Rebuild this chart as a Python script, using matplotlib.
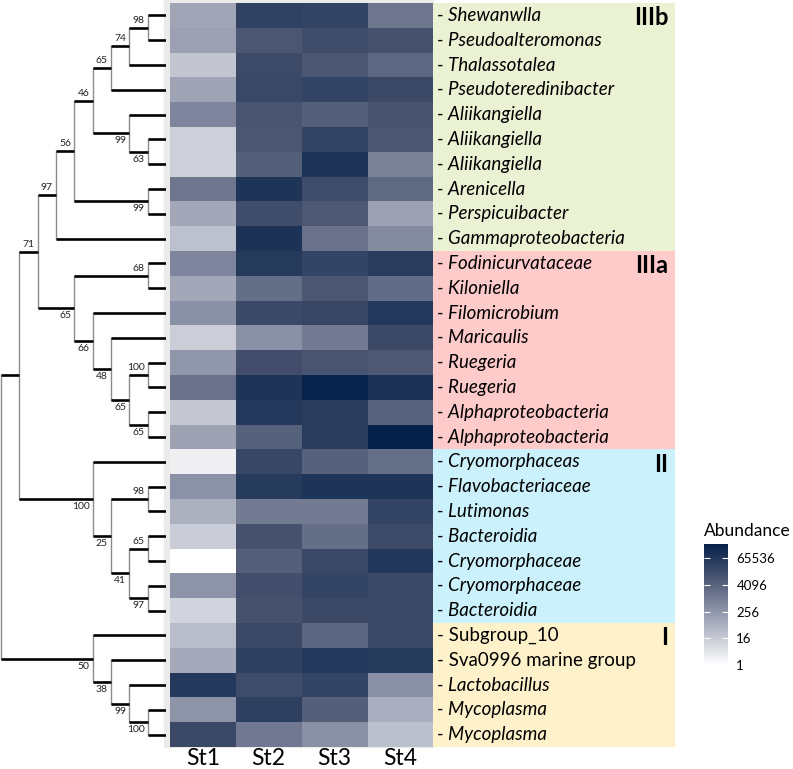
import matplotlib
matplotlib.use("Agg")
import matplotlib.pyplot as plt
import numpy as np
from matplotlib.colors import LinearSegmentedColormap, Normalize
from matplotlib.patches import Rectangle
import matplotlib.cm as cm

plt.rcParams['font.family'] = ['Lato', 'DejaVu Sans']

# taxa (top to bottom)
taxa = ['Shewanwlla', 'Pseudoalteromonas', 'Thalassotalea', 'Pseudoteredinibacter',
        'Aliikangiella', 'Aliikangiella', 'Aliikangiella', 'Arenicella', 'Perspicuibacter',
        'Gammaproteobacteria', 'Fodinicurvataceae', 'Kiloniella', 'Filomicrobium',
        'Maricaulis', 'Ruegeria', 'Ruegeria', 'Alphaproteobacteria', 'Alphaproteobacteria',
        'Cryomorphaceas', 'Flavobacteriaceae', 'Lutimonas', 'Bacteroidia', 'Cryomorphaceae',
        'Cryomorphaceae', 'Bacteroidia', 'Subgroup_10', 'Sva0996 marine group',
        'Lactobacillus', 'Mycoplasma', 'Mycoplasma']
not_italic = ['Subgroup_10', 'Sva0996 marine group']
stations = ['St1', 'St2', 'St3', 'St4']

# log2 abundance per station
st1 = [6.8, 7.2, 4.3, 6.9, 9.2, 3.6, 3.6, 10.4, 6.6, 4.7,
       9.2, 6.6, 8.4, 3.7, 7.9, 10.8, 4.2, 7.0,
       1.2, 8.3, 5.9, 3.8, 0.0, 8.1, 3.2,
       5.0, 6.5, 15.7, 8.1, 14.1]
st2 = [14.9, 13.0, 14.0, 14.2, 13.1, 13.0, 12.3, 16.1, 13.8, 16.3,
       15.6, 11.1, 14.1, 8.4, 13.7, 16.1, 15.7, 12.1,
       14.3, 15.6, 10.0, 13.4, 12.3, 13.6, 13.4,
       14.1, 15.0, 13.9, 15.0, 10.2]
st3 = [14.6, 13.8, 12.9, 14.6, 12.3, 14.7, 16.1, 13.9, 12.8, 10.7,
       14.6, 13.0, 14.4, 10.0, 13.1, 17.7, 15.4, 15.4,
       12.1, 16.1, 10.0, 11.1, 14.1, 14.6, 14.1,
       11.8, 15.7, 14.6, 12.3, 8.4]
st4 = [10.4, 13.4, 11.6, 14.1, 13.2, 13.0, 9.5, 11.5, 7.1, 8.8,
       15.4, 11.2, 15.8, 14.1, 12.7, 16.4, 12.0, 18.1,
       11.0, 16.1, 14.6, 14.0, 15.9, 14.1, 14.1,
       14.1, 15.6, 8.4, 6.2, 4.8]

groups = ['IIIb', 'IIIa', 'II', 'I']
group_start = [0, 10, 18, 25]
group_end = [10, 18, 25, 30]
group_colors = ['#EBF1D3', '#FFCACA', '#CBF2FC', '#FFF2CB']

cb_ticks = [0, 4, 8, 12, 16]
cb_labels = ['1', '16', '256', '4096', '65536']


# tree: (upper, lower, bootstrap)
def nd(a, b, s=None):
    return (a, b, s)

A = nd(0, 1, 98); B = nd(A, 2, 74); C = nd(B, 3, 65)
D = nd(5, 6, 63); E = nd(4, D, 99); F = nd(C, E, 46)
G = nd(7, 8, 99); H = nd(F, G, 56); I3b = nd(H, 9, 97)
J = nd(10, 11, 68); K = nd(14, 15, 100); L = nd(16, 17, 65)
M = nd(K, L, 65); N = nd(13, M, 48); O = nd(12, N, 66); P = nd(J, O, 65)
Q = nd(I3b, P, 71)
R = nd(19, 20, 98); S = nd(21, 22, 65); T = nd(23, 24, 97)
U = nd(S, T, 41); V = nd(R, U, 25); W = nd(18, V, 100)
X = nd(Q, W)
Y = nd(28, 29, 100); Z = nd(27, Y, 99); AA = nd(26, Z, 38); AB = nd(25, AA, 50)
root = nd(X, AB)

W_PX, H_PX = 793, 769
fig = plt.figure(figsize=(W_PX / 100, H_PX / 100), dpi=100)


def fx(px):
    return px / W_PX


def fy(px):
    return 1 - px / H_PX


top, bot = 3, 747
n = len(taxa)

# panel background strip
fig.patches.append(Rectangle((fx(164), fy(bot)), fx(433 - 164), bot / H_PX,
                             transform=fig.transFigure, color='#EBEBEB', zorder=-5))

# dendrogram
ax_t = fig.add_axes([0, fy(bot), fx(166), (bot - top) / H_PX])
ax_t.set_xlim(-0.06, 9.0)
ax_t.set_ylim(n - 0.5, -0.5)
ax_t.axis('off')
MAXH = 9


def draw(t):
    if isinstance(t, int):
        return t, 0
    a, b, s = t
    ya, ha = draw(a)
    yb, hb = draw(b)
    h = 1 + max(ha, hb)
    x = MAXH - h
    ax_t.plot([x, x], [ya, yb], color='#8C8C8C', lw=1.0, zorder=1)
    for k, (c, yc, hc) in enumerate([(a, ya, ha), (b, yb, hb)]):
        xc = MAXH - hc
        ax_t.plot([x, xc], [yc, yc], color='black', lw=1.9, zorder=2,
                  solid_capstyle='butt')
        if not isinstance(c, int) and c[2] is not None:
            if k == 0:
                ax_t.text(xc - 0.17, yc - 0.12, str(c[2]), ha='right', va='bottom',
                          fontsize=7.5, color='#222222')
            else:
                ax_t.text(xc - 0.17, yc + 0.12, str(c[2]), ha='right', va='top',
                          fontsize=7.5, color='#222222')
    return (ya + yb) / 2, h


draw(root)

# heatmap
cmap = LinearSegmentedColormap.from_list(
    'abund', [(0, '#FFFFFF'), (0.25, '#C0C3CF'), (0.5, '#81889E'),
              (0.75, '#434F6C'), (1.0, '#04214A')])
norm = Normalize(vmin=0, vmax=18.1)
vals = np.array([st1, st2, st3, st4]).T

ax_h = fig.add_axes([fx(170), fy(bot), fx(433 - 170), (bot - top) / H_PX])
ax_h.imshow(vals, cmap=cmap, norm=norm, aspect='auto', interpolation='nearest')
ax_h.set_xticks(range(len(stations)))
ax_h.set_xticklabels(stations, fontsize=16.5)
ax_h.set_yticks([])
ax_h.tick_params(axis='x', length=0, pad=1)
for sp in ax_h.spines.values():
    sp.set_visible(False)

# labels with group bands
ax_l = fig.add_axes([fx(433), fy(bot), fx(675 - 433), (bot - top) / H_PX])
ax_l.set_xlim(0, 1)
ax_l.set_ylim(n - 0.5, -0.5)
ax_l.axis('off')
for g, s0, s1, col in zip(groups, group_start, group_end, group_colors):
    ax_l.axhspan(s0 - 0.5, s1 - 0.5, color=col, lw=0)
    ax_l.text(0.972, s0 + 0.1, g, ha='right', va='center', fontsize=17,
              fontweight='bold', color='black')
for i, name in enumerate(taxa):
    ax_l.text(0.016, i, '- ' + name, ha='left', va='center', fontsize=13.5,
              style='normal' if name in not_italic else 'italic')

# colorbar
ax_c = fig.add_axes([fx(704), fy(665), fx(24), (665 - 544) / H_PX])
cb = fig.colorbar(cm.ScalarMappable(norm=norm, cmap=cmap), cax=ax_c)
cb.outline.set_visible(False)
cb.set_ticks(cb_ticks)
cb.set_ticklabels(cb_labels)
ax_c.tick_params(axis='y', left=True, right=True, direction='in', length=4,
                 color='white', width=0.8, labelsize=9.5, pad=6)
fig.text(fx(704), fy(531), 'Abundance', ha='left', va='center', fontsize=12.5)

plt.savefig('out.png', dpi=100)
